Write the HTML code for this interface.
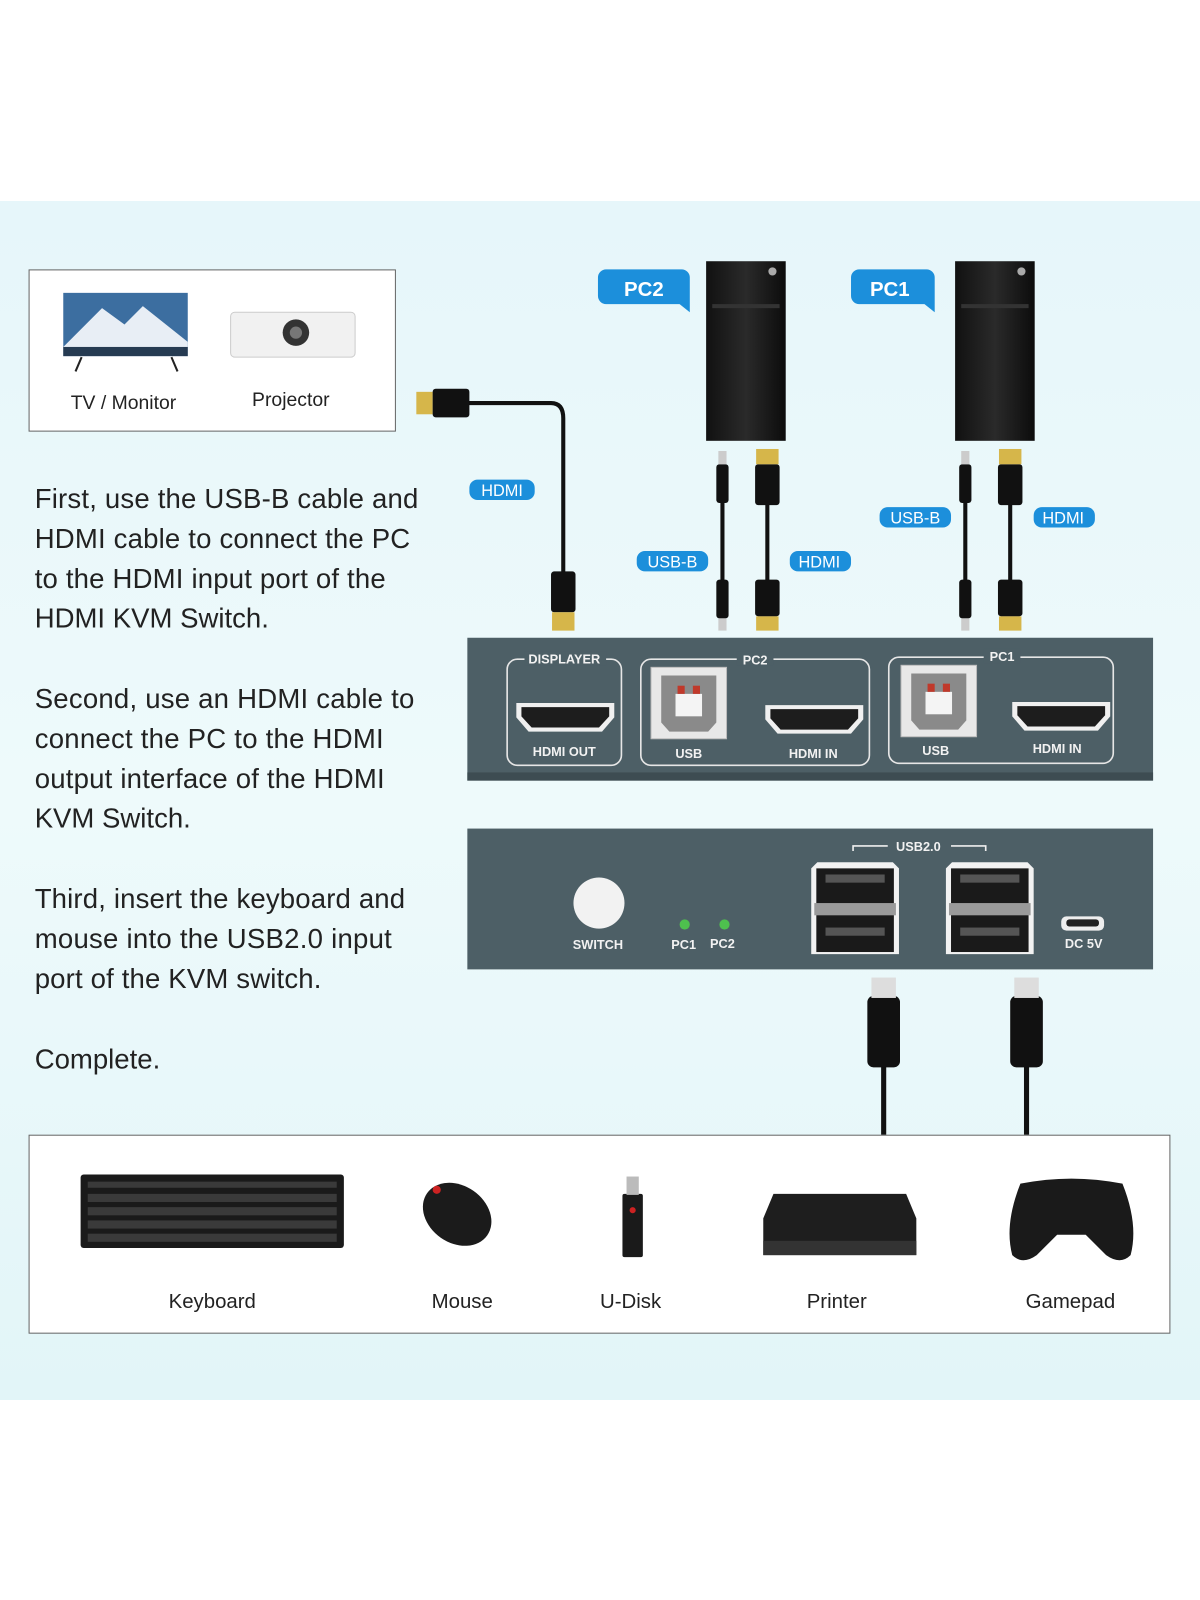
<!DOCTYPE html>
<html><head><meta charset="utf-8"><style>
html,body{margin:0;padding:0;background:#fff;}
svg{display:block;}
text{font-family:"Liberation Sans",sans-serif;}
</style></head><body>
<svg width="1200" height="1600" viewBox="0 0 1176 1568" xmlns="http://www.w3.org/2000/svg">
<defs>
<linearGradient id="bg" x1="0" y1="0" x2="0" y2="1">
<stop offset="0" stop-color="#e6f6fa"/><stop offset="0.5" stop-color="#eefafb"/><stop offset="1" stop-color="#e2f5f8"/>
</linearGradient>
<linearGradient id="pc" x1="0" y1="0" x2="1" y2="0">
<stop offset="0" stop-color="#111"/><stop offset="0.5" stop-color="#2a2a2a"/><stop offset="1" stop-color="#0c0c0c"/>
</linearGradient>
<g id="hdmiport">
<path d="M0,0 h96 v14 l-12,14 h-72 l-12,-14 z" fill="#f0f0f0"/>
<path d="M5,4 h86 v9 l-10,11 h-66 l-10,-11 z" fill="#1d1d1d"/>
</g>
<g id="usbb">
<rect x="0" y="0" width="74" height="70" fill="#e8e8e8" stroke="#bbb"/>
<path d="M10,8 h54 v46 l-8,9 h-38 l-8,-9 z" fill="#8a8a8a"/>
<rect x="24" y="26" width="26" height="22" fill="#f4f4f4"/>
<rect x="26" y="18" width="7" height="8" fill="#c0392b"/><rect x="41" y="18" width="7" height="8" fill="#c0392b"/>
</g>
<g id="usba">
<path d="M0,6 l6,-6 h74 l6,6 v84 h-86 z" fill="#f2f2f2"/>
<rect x="5" y="6" width="76" height="82" fill="#1a1a1a"/>
<rect x="14" y="12" width="58" height="8" fill="#555"/>
<rect x="3" y="40" width="80" height="12" fill="#9a9a9a"/>
<rect x="14" y="64" width="58" height="8" fill="#555"/>
</g>
</defs>
<rect x="0" y="0" width="1176" height="197" fill="#fff"/>
<rect x="0" y="197" width="1176" height="1175" fill="url(#bg)"/>

<rect x="28.5" y="264.5" width="359" height="158" fill="#fff" stroke="#666"/>
<rect x="62" y="287" width="122" height="62" fill="#3c6ea0"/>
<path d="M62,340 L100,302 L122,318 L140,300 L184,335 L184,349 L62,349Z" fill="#e8eef5"/>
<rect x="62" y="340" width="122" height="9" fill="#263b52"/>
<path d="M80,350 l-6,14 M168,350 l6,14" stroke="#222" stroke-width="2"/>
<rect x="226" y="306" width="122" height="44" rx="4" fill="#f1f1f1" stroke="#ccc"/>
<circle cx="290" cy="326" r="13" fill="#333"/><circle cx="290" cy="326" r="6" fill="#777"/>
<text x="121" y="401" font-size="19" text-anchor="middle" fill="#222">TV / Monitor</text>
<text x="285" y="398" font-size="19" text-anchor="middle" fill="#222">Projector</text>

<g font-size="27" fill="#222" textLength="376">
<text x="34" y="498" textLength="376">First, use the USB-B cable and</text>
<text x="34" y="537" textLength="368">HDMI cable to connect the PC</text>
<text x="34" y="576" textLength="344">to the HDMI input port of the</text>
<text x="34" y="615">HDMI KVM Switch.</text>
<text x="34" y="694" textLength="372">Second, use an HDMI cable to</text>
<text x="34" y="733" textLength="342">connect the PC to the HDMI</text>
<text x="34" y="772" textLength="343">output interface of the HDMI</text>
<text x="34" y="811">KVM Switch.</text>
<text x="34" y="890" textLength="363">Third, insert the keyboard and</text>
<text x="34" y="929" textLength="350">mouse into the USB2.0 input</text>
<text x="34" y="968" textLength="281">port of the KVM switch.</text>
<text x="34" y="1047">Complete.</text>
</g>

<path d="M440,395 H540 Q552,395 552,410 V570" stroke="#111" stroke-width="4" fill="none"/>
<rect x="408" y="384" width="16" height="22" fill="#d6b64a"/>
<rect x="424" y="381" width="36" height="28" rx="3" fill="#111"/>
<rect x="540" y="560" width="24" height="40" rx="3" fill="#111"/>
<rect x="541" y="600" width="22" height="18" fill="#d6b64a"/>

<rect x="692" y="256" width="78" height="176" fill="url(#pc)"/>
<circle cx="757" cy="266" r="4" fill="#aaa"/>
<rect x="698" y="298" width="66" height="4" fill="#333"/>
<rect x="936" y="256" width="78" height="176" fill="url(#pc)"/>
<circle cx="1001" cy="266" r="4" fill="#aaa"/>
<rect x="942" y="298" width="66" height="4" fill="#333"/>
<path d="M594,264 h74 a8,8 0 0 1 8,8 v22 l0,12 l-10,-8 h-72 a8,8 0 0 1 -8,-8 v-18 a8,8 0 0 1 8,-8z" fill="#1c8fdb"/>
<text x="631" y="290" font-size="20" font-weight="bold" fill="#fff" text-anchor="middle">PC2</text>
<path d="M842,264 h66 a8,8 0 0 1 8,8 v22 l0,12 l-10,-8 h-64 a8,8 0 0 1 -8,-8 v-18 a8,8 0 0 1 8,-8z" fill="#1c8fdb"/>
<text x="872" y="290" font-size="20" font-weight="bold" fill="#fff" text-anchor="middle">PC1</text>

<g stroke="#111" stroke-width="4" fill="none">
<path d="M708,490 V570"/><path d="M752,490 V570"/>
<path d="M946,490 V570"/><path d="M990,490 V570"/>
</g>
<g fill="#111">
<rect x="702" y="455" width="12" height="38" rx="3"/><rect x="702" y="568" width="12" height="38" rx="3"/>
<rect x="940" y="455" width="12" height="38" rx="3"/><rect x="940" y="568" width="12" height="38" rx="3"/>
<rect x="740" y="455" width="24" height="40" rx="3"/><rect x="740" y="568" width="24" height="36" rx="3"/>
<rect x="978" y="455" width="24" height="40" rx="3"/><rect x="978" y="568" width="24" height="36" rx="3"/>
</g>
<g fill="#d6b64a">
<rect x="741" y="440" width="22" height="15"/><rect x="741" y="604" width="22" height="14"/>
<rect x="979" y="440" width="22" height="15"/><rect x="979" y="604" width="22" height="14"/>
</g>
<g fill="#ccc"><rect x="704" y="442" width="8" height="13"/><rect x="704" y="606" width="8" height="12"/>
<rect x="942" y="442" width="8" height="13"/><rect x="942" y="606" width="8" height="12"/></g>

<g font-size="16" fill="#fff" text-anchor="middle">
<rect x="460" y="470" width="64" height="20" rx="8" fill="#1c8fdb"/><text x="492" y="486">HDMI</text>
<rect x="624" y="540" width="70" height="20" rx="8" fill="#1c8fdb"/><text x="659" y="556">USB-B</text>
<rect x="774" y="540" width="60" height="20" rx="8" fill="#1c8fdb"/><text x="803" y="556">HDMI</text>
<rect x="862" y="497" width="70" height="20" rx="8" fill="#1c8fdb"/><text x="897" y="513">USB-B</text>
<rect x="1013" y="497" width="60" height="20" rx="8" fill="#1c8fdb"/><text x="1042" y="513">HDMI</text>
</g>

<rect x="458" y="625" width="672" height="140" fill="#4d5f66"/>
<rect x="458" y="757" width="672" height="8" fill="#3d4c52"/>
<g stroke="#e6e6e6" stroke-width="1.6" fill="none">
<rect x="497" y="646" width="112" height="104" rx="10"/>
<rect x="628" y="646" width="224" height="104" rx="10"/>
<rect x="871" y="644" width="220" height="104" rx="10"/>
</g>
<g font-size="12.5" font-weight="bold" fill="#f2f2f2" text-anchor="middle">
<rect x="514" y="638" width="80" height="14" fill="#4d5f66"/><text x="553" y="650">DISPLAYER</text>
<rect x="722" y="638" width="36" height="14" fill="#4d5f66"/><text x="740" y="651">PC2</text>
<rect x="964" y="636" width="36" height="14" fill="#4d5f66"/><text x="982" y="648">PC1</text>
<text x="553" y="741">HDMI OUT</text>
<text x="675" y="743">USB</text><text x="797" y="743">HDMI IN</text>
<text x="917" y="740">USB</text><text x="1036" y="738">HDMI IN</text>
</g>
<use href="#hdmiport" x="506" y="689"/>
<use href="#hdmiport" x="750" y="691"/>
<use href="#hdmiport" x="992" y="688"/>
<use href="#usbb" x="638" y="654"/>
<use href="#usbb" x="883" y="652"/>

<rect x="458" y="812" width="672" height="138" fill="#4d5f66"/>
<circle cx="587" cy="885" r="25" fill="#f2f2f2"/>
<circle cx="671" cy="906" r="5" fill="#4ec04e"/><circle cx="710" cy="906" r="5" fill="#4ec04e"/>
<g font-size="12.5" font-weight="bold" fill="#f2f2f2" text-anchor="middle">
<text x="586" y="930">SWITCH</text><text x="670" y="930">PC1</text><text x="708" y="929">PC2</text>
<text x="900" y="834">USB2.0</text><text x="1062" y="929">DC 5V</text>
</g>
<path d="M836,834 v-5 h34 M932,829 h34 v5" stroke="#eee" stroke-width="1.6" fill="none"/>
<use href="#usba" x="795" y="845"/>
<use href="#usba" x="927" y="845"/>
<rect x="1040" y="898" width="42" height="14" rx="5" fill="#eee"/><rect x="1045" y="901" width="32" height="7" rx="3" fill="#222"/>

<g stroke="#111" stroke-width="5"><path d="M866,1040 V1112"/><path d="M1006,1040 V1112"/></g>
<rect x="850" y="976" width="32" height="70" rx="6" fill="#111"/>
<rect x="990" y="976" width="32" height="70" rx="6" fill="#111"/>
<rect x="854" y="958" width="24" height="20" fill="#ddd"/><rect x="994" y="958" width="24" height="20" fill="#ddd"/>

<rect x="28.5" y="1112.5" width="1118" height="194" fill="#fff" stroke="#666"/>
<rect x="79" y="1151" width="258" height="72" rx="3" fill="#1a1a1a"/>
<g fill="#3a3a3a">
<rect x="86" y="1158" width="244" height="6"/><rect x="86" y="1170" width="244" height="8"/>
<rect x="86" y="1183" width="244" height="8"/><rect x="86" y="1196" width="244" height="8"/>
<rect x="86" y="1209" width="244" height="8"/></g>
<ellipse cx="448" cy="1190" rx="36" ry="28" fill="#1b1b1b" transform="rotate(35 448 1190)"/>
<circle cx="428" cy="1166" r="4" fill="#c22"/>
<rect x="610" y="1170" width="20" height="62" rx="2" fill="#1a1a1a"/><rect x="614" y="1153" width="12" height="18" fill="#bbb"/>
<circle cx="620" cy="1186" r="3" fill="#c22"/>
<path d="M758,1170 h130 l10,24 v36 h-150 v-36z" fill="#1e1e1e"/><rect x="748" y="1216" width="150" height="14" fill="#333"/>
<path d="M1000,1160 q50,-10 100,0 q16,40 8,70 q-10,10 -24,0 l-20,-20 h-28 l-20,20 q-14,10 -24,0 q-8,-30 8,-70z" fill="#1a1a1a"/>
<g font-size="20" fill="#222" text-anchor="middle">
<text x="208" y="1282">Keyboard</text><text x="453" y="1282">Mouse</text><text x="618" y="1282">U-Disk</text>
<text x="820" y="1282">Printer</text><text x="1049" y="1282">Gamepad</text>
</g>
</svg>
</body></html>
